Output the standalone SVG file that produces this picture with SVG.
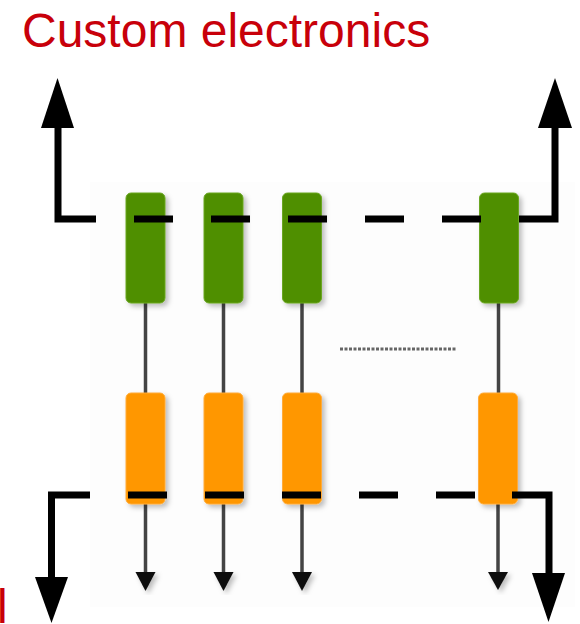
<svg xmlns="http://www.w3.org/2000/svg" width="580" height="624" viewBox="0 0 580 624">
  <style>
    .title { font-family: "Liberation Sans", Arial, sans-serif; font-size: 48px; fill: #c8000a; }
    .green { fill: #4f8f00; stroke: #6aa622; stroke-width: 1; }
    .orange { fill: #ff9700; stroke: #ffab3a; stroke-width: 1; }
    .wire { stroke: #444; stroke-width: 3.5; fill: none; }
    .tip { fill: #111; }
    .bus { stroke: #000; stroke-width: 7; fill: none; }
    .dash { stroke: #000; stroke-width: 7; fill: none; stroke-dasharray: 39 38; }
    .head { fill: #000; }
    .dots { stroke: #666; stroke-width: 3; stroke-dasharray: 3 1.5; fill: none; }
  </style>
  <defs>
    <filter id="shadow" x="-30%" y="-10%" width="170%" height="130%">
      <feDropShadow dx="3" dy="3" stdDeviation="2.5" flood-color="#000" flood-opacity="0.25"/>
    </filter>
  </defs>
  <rect width="580" height="624" fill="#ffffff"/>
  <rect x="90" y="182" width="485" height="425" fill="#fdfdfd"/>

  <text class="title" x="22" y="47">Custom electronics</text>
  <text class="title" x="-3" y="623">l</text>

  <g id="connectors">
    <path class="wire" d="M145.5,303 V393 M223.5,303 V393 M302,303 V393 M498.5,303 V393"/>
    <path class="wire" d="M145.5,504 V574 M223.5,504 V574 M302,504 V574 M498,504 V574"/>
    <g filter="url(#shadow)">
      <polygon class="tip" points="135.5,572 155.5,572 145.5,591"/>
      <polygon class="tip" points="213.5,572 233.5,572 223.5,591"/>
      <polygon class="tip" points="292,572 312,572 302,591"/>
      <polygon class="tip" points="488,572 508,572 498,590"/>
    </g>
    <line class="dots" x1="340" y1="349" x2="457" y2="349"/>
  </g>

  <g id="detectors" filter="url(#shadow)">
    <rect class="green" x="126" y="193" width="39" height="110" rx="5"/>
    <rect class="green" x="204" y="193" width="39" height="110" rx="5"/>
    <rect class="green" x="282.5" y="193" width="39" height="110" rx="5"/>
    <rect class="green" x="479.5" y="193" width="39" height="110" rx="5"/>
  </g>
  <g id="readout" filter="url(#shadow)">
    <rect class="orange" x="126" y="393" width="39" height="111" rx="5"/>
    <rect class="orange" x="204" y="393" width="39" height="111" rx="5"/>
    <rect class="orange" x="282.5" y="393" width="39" height="111" rx="5"/>
    <rect class="orange" x="478.5" y="393" width="39" height="111" rx="5"/>
  </g>

  <g id="top-bus">
    <path class="bus" d="M58,126 V219 H96"/>
    <line class="dash" x1="134" y1="219" x2="481" y2="219"/>
    <path class="bus" d="M519,219 H555 V126"/>
    <polygon class="head" points="41,128 74,128 57.5,78"/>
    <polygon class="head" points="538,128 572,128 555,78"/>
  </g>
  <g id="bottom-bus">
    <path class="bus" d="M90,495 H51.5 V579"/>
    <line class="dash" x1="128" y1="495" x2="475" y2="495"/>
    <path class="bus" d="M512,495 H549 V575"/>
    <polygon class="head" points="35,577 68,577 51.5,623"/>
    <polygon class="head" points="532,573 565,573 548.5,622"/>
  </g>
</svg>
